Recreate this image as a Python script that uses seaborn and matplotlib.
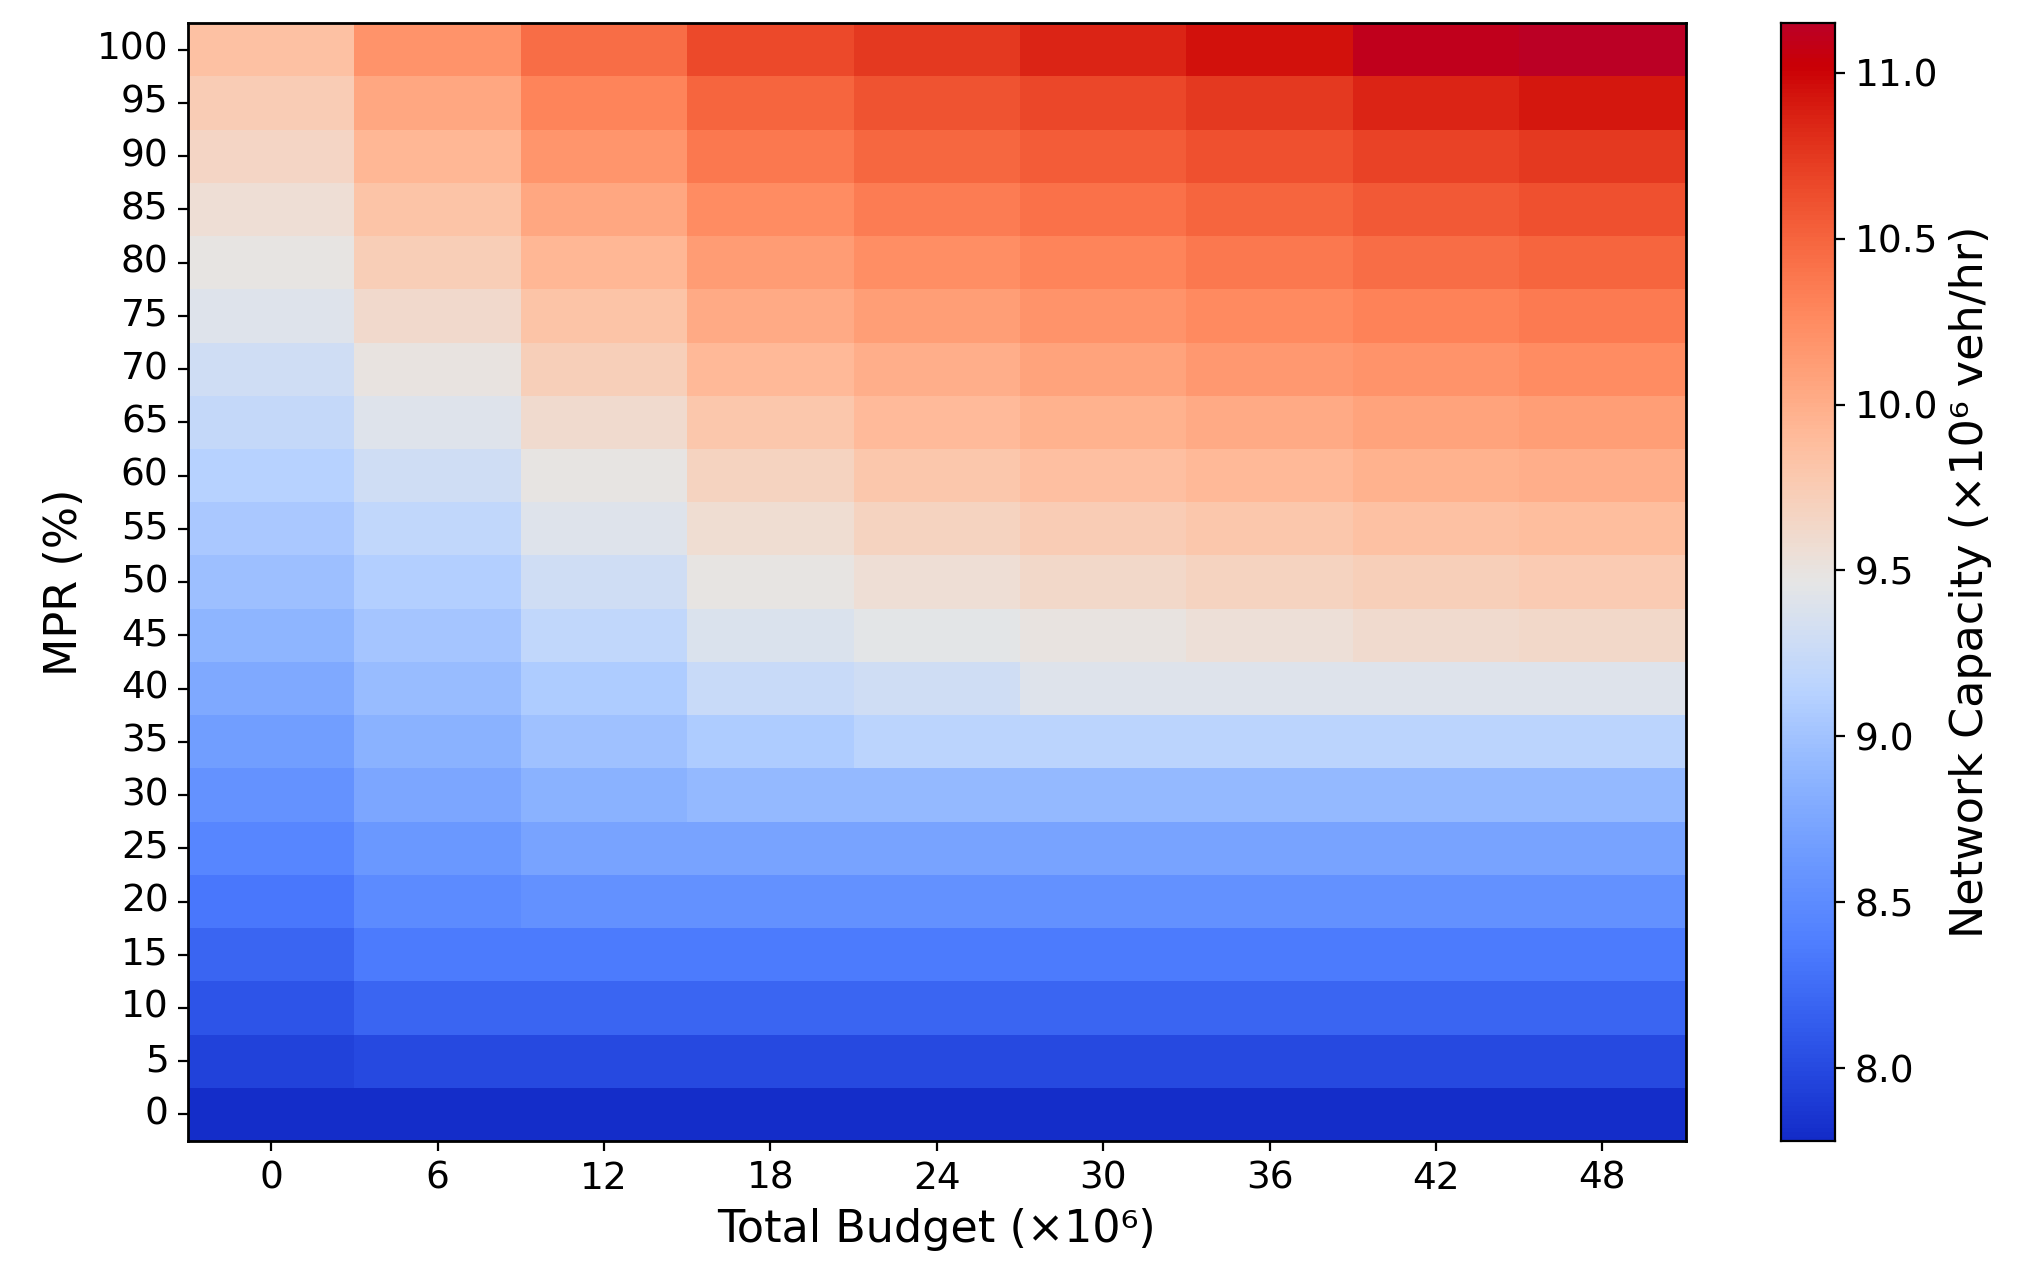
import numpy as np
import pandas as pd
import matplotlib
matplotlib.use("Agg")
import matplotlib.pyplot as plt
import matplotlib.colors as mcolors
import seaborn as sns

mpr = list(range(0, 101, 5))
budget = [0, 6, 12, 18, 24, 30, 36, 42, 48]

b0 = [7.80, 7.95, 8.08, 8.20, 8.32, 8.44, 8.56, 8.67, 8.78, 8.88, 8.97, 9.05, 9.13, 9.22, 9.30, 9.40, 9.48, 9.56, 9.65, 9.75, 9.85]
b6 = [7.80, 8.00, 8.20, 8.35, 8.50, 8.62, 8.75, 8.85, 8.95, 9.03, 9.10, 9.20, 9.30, 9.40, 9.50, 9.62, 9.73, 9.83, 9.93, 10.05, 10.20]
b12 = [7.80, 8.00, 8.20, 8.35, 8.55, 8.72, 8.85, 8.98, 9.08, 9.20, 9.30, 9.40, 9.48, 9.60, 9.72, 9.83, 9.93, 10.05, 10.18, 10.30, 10.45]
b18 = [7.80, 8.00, 8.20, 8.35, 8.55, 8.72, 8.92, 9.08, 9.25, 9.38, 9.48, 9.58, 9.68, 9.80, 9.92, 10.03, 10.13, 10.25, 10.38, 10.50, 10.65]
b24 = [7.80, 8.00, 8.20, 8.35, 8.55, 8.72, 8.92, 9.15, 9.30, 9.45, 9.57, 9.68, 9.80, 9.90, 10.00, 10.12, 10.23, 10.35, 10.48, 10.60, 10.75]
b30 = [7.80, 8.00, 8.20, 8.35, 8.55, 8.72, 8.92, 9.15, 9.40, 9.50, 9.63, 9.75, 9.87, 9.97, 10.08, 10.20, 10.30, 10.42, 10.55, 10.67, 10.85]
b36 = [7.80, 8.00, 8.20, 8.35, 8.55, 8.72, 8.92, 9.15, 9.40, 9.55, 9.68, 9.80, 9.92, 10.03, 10.15, 10.26, 10.38, 10.50, 10.62, 10.75, 10.95]
b42 = [7.80, 8.00, 8.20, 8.35, 8.55, 8.72, 8.92, 9.15, 9.40, 9.60, 9.72, 9.85, 9.97, 10.08, 10.20, 10.32, 10.45, 10.56, 10.70, 10.85, 11.10]
b48 = [7.80, 8.00, 8.20, 8.35, 8.55, 8.72, 8.92, 9.15, 9.40, 9.63, 9.76, 9.88, 10.00, 10.12, 10.25, 10.37, 10.50, 10.62, 10.75, 10.92, 11.15]

cols = [b0, b6, b12, b18, b24, b30, b36, b42, b48]
df = pd.DataFrame(np.array(cols).T, index=mpr, columns=budget).iloc[::-1]

base = plt.get_cmap("coolwarm")(np.linspace(0, 1, 256))[:, :3]
hsv = mcolors.rgb_to_hsv(base)
hsv[:, 1] = np.clip(hsv[:, 1] * 1.3, 0, 1)
hsv[:, 2] = np.clip(hsv[:, 2] * 1.04, 0, 1)
cmap = mcolors.ListedColormap(mcolors.hsv_to_rgb(hsv))

fig = plt.figure(figsize=(10.105, 6.425), dpi=200)
ax = fig.add_axes([0.093, 0.112, 0.741, 0.870])
cax = fig.add_axes([0.881, 0.112, 0.027, 0.870])
sns.heatmap(df, cmap=cmap, vmin=7.78, vmax=11.15, ax=ax, cbar_ax=cax,
            xticklabels=budget, yticklabels=list(df.index))
ax.tick_params(axis="y", rotation=0, labelsize=13.5)
ax.tick_params(axis="x", rotation=0, labelsize=13.5)
for s in ax.spines.values():
    s.set_visible(True); s.set_linewidth(1)
ax.set_xlabel("Total Budget (×10⁶)", fontsize=16)
ax.set_ylabel("MPR (%)", fontsize=16)
cax.tick_params(labelsize=13.5)
cax.set_ylabel("Network Capacity (×10⁶ veh/hr)", fontsize=16)
cax.set_yticks([8.0, 8.5, 9.0, 9.5, 10.0, 10.5, 11.0])
for s in cax.spines.values():
    s.set_visible(True)
fig.savefig("out.png", dpi=200)
